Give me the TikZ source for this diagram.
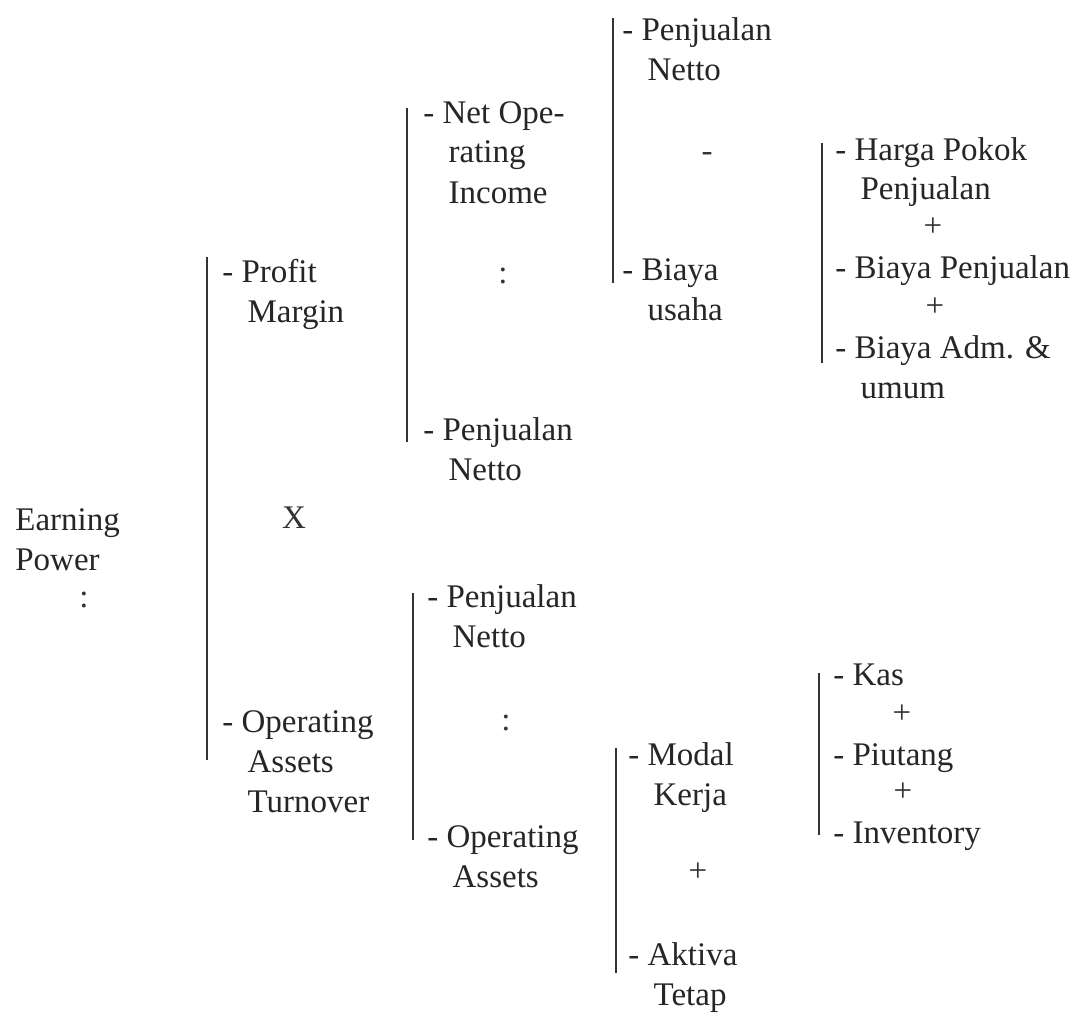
\documentclass[tikz,border=0pt]{standalone}
\usepackage{fontspec}
\setmainfont{Liberation Serif}
\usepackage{tikz}
\usetikzlibrary{positioning}
\newcommand{\itemlines}[1]{\begin{tabular}[t]{@{}l@{}}#1\end{tabular}}
\newcommand{\subline}{\phantom{- }\hspace{3pt}}
\tikzstyle{item}=[anchor=base west, inner sep=0pt, text=black!85,
font=\fontsize{16.5pt}{20pt}\selectfont]
\tikzstyle{op}=[anchor=base, inner sep=0pt, text=black!80,
font=\fontsize{16.5pt}{20pt}\selectfont]
\tikzstyle{bracket}=[draw=black!80, line width=1.3pt]

\begin{document}
\begin{tikzpicture}[x=0.5pt, y=-0.5pt]
            \fill[white] (0,0) rectangle (1078,1011);
            % root
            \node (ep)[item] at (15,530) {\itemlines{Earning\\Power}};
            \node (div0)[op] at (84,607) {:};
            % first level
            \node (pm)[item] at (222,282) {\itemlines{- Profit\\\subline Margin}};
            \node (times)[op] at (294,528) {X};
            \node (oat)[item] at (222,732) {\itemlines{- Operating\\\subline Assets\\\subline Turnover}};
            % profit margin
            \node (noi)[item] at (423,123) {\itemlines{- Net Ope-\\\subline rating\\\subline Income}};
            \node (div1)[op] at (503,283) {:};
            \node (pn1)[item] at (423,440) {\itemlines{- Penjualan\\\subline Netto}};
            % net operating income
            \node (pn2)[item] at (622,40) {\itemlines{- Penjualan\\\subline Netto}};
            \node (minus)[op] at (707,161) {-};
            \node (usaha)[item] at (622,280) {\itemlines{- Biaya\\\subline usaha}};
            % biaya usaha
            \node (hpp)[item] at (835,160) {\itemlines{- Harga Pokok\\\subline Penjualan}};
            \node (plus1)[op] at (933,236) {+};
            \node (bpenj)[item] at (835,278) {- Biaya Penjualan};
            \node (plus2)[op] at (935,316) {+};
            \node (adm)[item] at (835,358) {\itemlines{- Biaya Adm. \&\\\subline umum}};
            % operating assets turnover
            \node (pn3)[item] at (427,607) {\itemlines{- Penjualan\\\subline Netto}};
            \node (div2)[op] at (506,730) {:};
            \node (oa)[item] at (427,847) {\itemlines{- Operating\\\subline Assets}};
            % operating assets
            \node (modal)[item] at (628,765) {\itemlines{- Modal\\\subline Kerja}};
            \node (plus3)[op] at (698,881) {+};
            \node (aktiva)[item] at (628,965) {\itemlines{- Aktiva\\\subline Tetap}};
            % modal kerja
            \node (kas)[item] at (833,685) {- Kas};
            \node (plus4)[op] at (902,723) {+};
            \node (piutang)[item] at (833,765) {- Piutang};
            \node (plus5)[op] at (903,801) {+};
            \node (inv)[item] at (833,843) {- Inventory};
            % brackets
            \draw[bracket] ([shift={(-15,-25)}]pm.base west) -- ([shift={(-15,28)}]oat.base west);
            \draw[bracket] ([shift={(-16,-15)}]noi.base west) -- ([shift={(-16,2)}]pn1.base west);
            \draw[bracket] ([shift={(-9,-22)}]pn2.base west) -- ([shift={(-9,3)}]usaha.base west);
            \draw[bracket] ([shift={(-13,-17)}]hpp.base west) -- ([shift={(-13,5)}]adm.base west);
            \draw[bracket] ([shift={(-14,-14)}]pn3.base west) -- ([shift={(-14,-7)}]oa.base west);
            \draw[bracket] ([shift={(-12,-17)}]modal.base west) -- ([shift={(-12,8)}]aktiva.base west);
            \draw[bracket] ([shift={(-14,-12)}]kas.base west) -- ([shift={(-14,-8)}]inv.base west);
        \end{tikzpicture}
\end{document}
